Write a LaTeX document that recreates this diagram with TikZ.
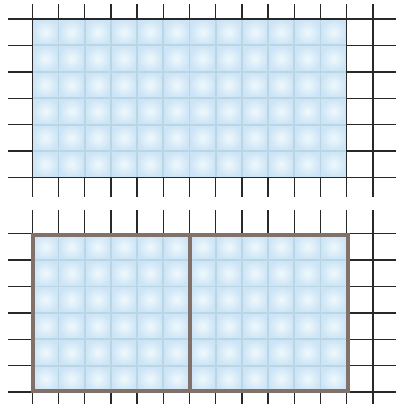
\documentclass[tikz,border=0pt]{standalone}
\usepackage{xcolor}
\usepackage{tikz}

\definecolor{icefill}{RGB}{228,244,250}
\definecolor{icepatch}{RGB}{204,228,246}
\definecolor{grout}{RGB}{184,214,228}
\definecolor{gridink}{RGB}{40,40,40}
\definecolor{rim}{RGB}{128,114,106}

\begin{document}
\begin{tikzpicture}[x=1pt, y=-1pt,
  gridline/.style={draw=gridink, line width=1.4pt},
  icetile/.style={inner color=icefill!60!white, outer color=icepatch},
  groutline/.style={draw=grout, line width=1.8pt},
  rimline/.style={draw=rim, line width=4pt}]
  \useasboundingbox (0,0) rectangle (396,404);
  % upper floor
  \foreach \k in {0,...,13}
    \draw[gridline] ({32.3+26.2*\k},4) -- ({32.3+26.2*\k},197);
  \foreach \j in {0,...,6}
    \draw[gridline] (8,{19+26.4*\j}) -- (396,{19+26.4*\j});
  \foreach \i in {0,...,11}
    \foreach \j in {0,...,5}
      \shade[icetile] ({32.3+26.2*\i},{19+26.4*\j}) rectangle +(26.2,26.4);
  \foreach \i in {1,...,11}
    \draw[groutline] ({32.3+26.2*\i},19) -- ({32.3+26.2*\i},177.4);
  \foreach \j in {1,...,5}
    \draw[groutline] (32.3,{19+26.4*\j}) -- (346.7,{19+26.4*\j});
  \draw[gridline] (32.3,19) rectangle (346.7,177.4);
  % lower floor
  \foreach \k in {0,...,13}
    \draw[gridline] ({32.3+26.2*\k},210) -- ({32.3+26.2*\k},404);
  \foreach \j in {0,...,6}
    \draw[gridline] (8,{233.7+26.4*\j}) -- (396,{233.7+26.4*\j});
  \foreach \i in {0,...,11}
    \foreach \j in {0,...,5}
      \shade[icetile] ({32.3+26.2*\i},{233.7+26.4*\j}) rectangle +(26.2,26.4);
  \foreach \i in {1,...,11}
    \draw[groutline] ({32.3+26.2*\i},233.7) -- ({32.3+26.2*\i},392.1);
  \foreach \j in {1,...,5}
    \draw[groutline] (32.3,{233.7+26.4*\j}) -- (346.7,{233.7+26.4*\j});
  \draw[rimline] (32.7,234.5) rectangle (347.5,390.5);
  \draw[rimline] (190.4,234.5) -- (190.4,390.5);
\end{tikzpicture}
\end{document}
